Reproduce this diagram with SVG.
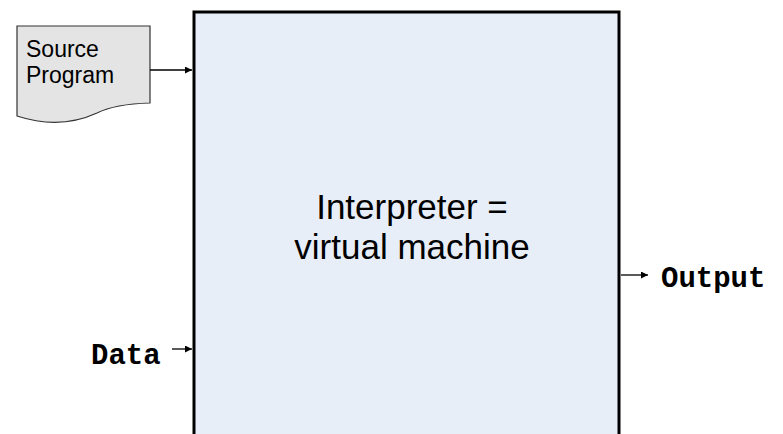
<svg xmlns="http://www.w3.org/2000/svg" width="783" height="434" viewBox="0 0 783 434">
<defs>
<style>
.lbl{font-family:"Liberation Sans",Arial,sans-serif;fill:#000}
.mono{font-family:"Liberation Mono","Courier New",monospace;font-weight:bold;font-size:29px;fill:#000}
.conn{stroke:#000;stroke-width:1.3;fill:none}
</style>
<marker id="ah" viewBox="0 0 10 10" refX="10" refY="5" markerWidth="8" markerHeight="7" markerUnits="userSpaceOnUse" orient="auto">
<path d="M0,0 L10,5 L0,10 Z" fill="#000"/>
</marker>
</defs>
<rect width="783" height="434" fill="#fff"/>
<g id="interpreter">
<rect x="194" y="12" width="425" height="440" fill="#E8EEF7" stroke="#000" stroke-width="3"/>
<text class="lbl" font-size="35" text-anchor="middle" x="412" y="219">Interpreter =</text>
<text class="lbl" font-size="35" text-anchor="middle" x="412" y="259">virtual machine</text>
</g>
<g id="source-program">
<path d="M17,26 L150,26 L150,103 Q115,104 97,113 Q60,130 17,116 Z" fill="#E4E4E4" stroke="#333" stroke-width="1.2"/>
<text class="lbl" font-size="23" x="26" y="57">Source</text>
<text class="lbl" font-size="23" x="26" y="83">Program</text>
</g>
<g id="data">
<text class="mono" x="91" y="364">Data</text>
</g>
<g id="output">
<text class="mono" x="661" y="287">Output</text>
</g>
<g id="connectors">
<line class="conn" x1="150" y1="70" x2="192" y2="70" marker-end="url(#ah)"/>
<line class="conn" x1="172" y1="349" x2="192" y2="349" marker-end="url(#ah)"/>
<line class="conn" x1="621" y1="275" x2="648" y2="275" marker-end="url(#ah)"/>
</g>
</svg>
